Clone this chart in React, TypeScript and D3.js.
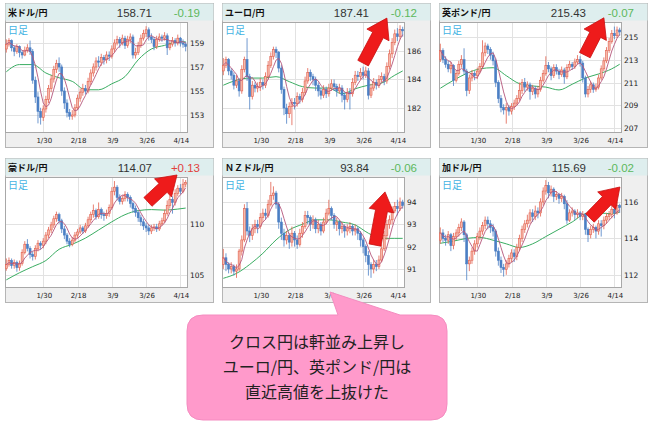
import React from 'react';
import * as d3 from 'd3';

// ---- shared axis data ----
const X_LABEL_IDX = [14, 27, 40, 53, 66];
const X_LABELS = ['1/30', '2/18', '3/9', '3/26', '4/14'];
const N = 69;
const MA_IDX = [0, 5, 10, 15, 20, 25, 30, 35, 40, 45, 50, 55, 60, 65, 68];

// ---- panel meta ----
const titles = ['米ドル/円', 'ユーロ/円', '英ポンド/円', '豪ドル/円', 'ＮＺドル/円', '加ドル/円'];
const prices = ['158.71', '187.41', '215.43', '114.07', '93.84', '115.69'];
const changes = ['-0.19', '-0.12', '-0.07', '+0.13', '-0.06', '-0.02'];
const firstOpen = [158.5, 184.6, 213.0, 105.6, 91.2, 113.9];
const yTicks = [
  [153, 155, 157, 159],
  [182, 184, 186],
  [207, 209, 211, 213, 215],
  [105, 110],
  [91, 92, 93, 94],
  [112, 114, 116],
];
const yDomains = [
  [151.58, 160.75],
  [180.32, 188.03],
  [206.67, 216.3],
  [103.8, 114.6],
  [90.19, 95.12],
  [111.33, 117.37],
];

// ---- USD/JPY ----
const usdClose = [158.9,159.2,158.6,158.3,158.7,158.2,158.0,158.4,158.6,158.3,155.9,154.5,153.3,152.8,153.5,154.3,155.2,156.0,156.8,157.3,157.0,155.0,154.0,153.2,152.9,153.0,153.6,154.4,154.9,155.2,155.0,155.8,156.5,157.0,157.5,157.4,157.8,157.6,158.0,157.9,158.5,159.0,159.3,159.0,159.4,158.8,159.3,159.5,158.0,158.2,158.8,159.4,159.8,160.1,159.5,159.3,158.7,159.3,159.5,159.4,159.6,158.6,158.9,159.2,159.0,159.4,159.0,158.9,158.71];
const usdHigh = [159.3,159.4,159.3,158.8,158.9,158.8,158.4,158.7,158.9,159.2,158.5,156.2,154.9,153.6,153.8,154.6,155.5,156.3,157.1,157.6,157.8,157.2,155.3,154.3,153.5,153.4,153.9,154.7,155.2,155.6,155.5,156.1,156.8,157.3,157.8,157.9,158.1,158.0,158.3,158.3,158.8,159.3,159.6,159.5,159.7,159.6,159.6,159.8,159.7,158.6,159.1,159.7,160.1,160.4,160.3,159.8,159.5,159.6,159.8,159.7,159.9,159.8,159.2,159.5,159.4,159.7,159.5,159.3,159.1];
const usdLow = [158.2,158.7,158.3,157.9,158.1,157.8,157.7,157.9,158.2,158.0,155.6,154.0,152.3,152.2,152.5,153.2,154.0,154.9,155.7,156.5,156.6,154.6,153.5,152.8,152.6,152.6,152.8,153.4,154.1,154.6,154.7,154.8,155.5,156.2,156.7,157.0,157.1,157.2,157.3,157.5,157.7,158.2,158.8,158.6,158.8,158.5,158.6,159.0,157.7,157.7,158.0,158.6,159.2,159.5,159.2,159.0,158.4,158.5,159.1,159.1,159.2,158.0,158.4,158.7,158.7,158.8,158.7,158.6,158.3];
const usdMa = [156.6,157.2,157.2,156.5,156.1,155.8,155.1,155.1,155.6,156.2,157.6,158.5,158.8,159.1,159.1];

// ---- EUR/JPY ----
const eurClose = [185.0,185.4,184.6,184.3,183.6,183.9,183.2,184.7,185.4,184.2,182.8,183.6,183.4,183.5,183.8,183.6,184.2,185.0,185.6,186.1,185.9,184.8,183.3,182.0,181.6,182.1,182.4,182.3,182.8,182.6,183.1,183.9,184.5,184.2,184.0,183.6,183.2,182.9,183.3,183.0,183.4,183.7,183.5,183.2,183.4,182.9,182.6,183.1,183.0,183.8,184.3,184.2,184.5,184.3,184.6,182.9,183.4,183.8,183.6,184.0,184.2,183.9,184.9,185.8,186.6,187.2,187.0,187.5,187.41];
const eurHigh = [185.5,185.6,185.5,184.8,184.5,184.3,184.1,185.0,185.6,186.9,184.4,183.9,183.8,183.8,184.1,184.0,184.5,185.3,185.9,186.3,186.3,186.0,185.0,183.5,182.3,182.4,182.7,182.7,183.1,183.0,183.4,184.2,184.8,184.7,184.4,184.2,183.8,183.4,183.6,183.5,183.7,184.0,184.0,183.7,183.7,183.6,183.1,183.4,183.4,184.1,184.6,184.6,184.8,184.9,184.9,184.8,183.7,184.1,184.0,184.3,184.5,184.4,185.2,186.1,186.9,187.5,187.6,187.8,187.7];
const eurLow = [184.3,184.8,184.3,184.0,183.3,183.4,182.8,183.0,184.5,183.9,181.9,182.6,183.1,183.1,183.2,183.3,183.4,184.0,184.8,185.4,185.5,184.5,183.0,181.5,180.9,181.3,180.8,181.9,182.1,182.3,182.4,182.9,183.7,183.9,183.6,183.2,182.8,182.6,182.7,182.7,182.8,183.2,183.2,182.8,183.0,182.4,181.9,182.4,181.9,182.8,183.6,183.9,184.0,184.0,184.1,182.6,182.7,183.2,183.3,183.4,183.8,183.6,183.7,184.7,185.5,186.4,186.7,186.8,187.0];
const eurMa = [183.6,183.95,184.1,184.1,184.2,183.85,183.5,183.4,183.4,183.0,183.35,183.6,183.75,184.3,184.6];

// ---- GBP/JPY ----
const gbpClose = [213.8,213.0,212.6,212.2,212.5,211.2,211.8,212.6,213.0,212.0,210.3,211.4,211.8,211.6,212.0,212.4,213.6,214.2,213.9,213.4,212.9,211.0,209.6,208.8,208.6,208.8,208.5,208.9,209.2,209.6,210.3,211.0,210.6,210.8,210.2,210.5,210.0,210.4,211.2,211.8,212.5,212.2,211.6,212.3,212.0,211.7,212.1,211.5,212.3,212.6,212.4,212.8,213.0,212.7,211.4,210.0,210.4,210.8,210.4,210.6,211.4,212.2,212.9,213.8,214.6,215.3,215.1,215.6,215.43];
const gbpHigh = [214.4,214.0,213.3,212.9,212.8,212.6,212.1,212.9,213.4,214.0,212.2,211.7,212.1,212.0,212.3,212.7,214.7,214.5,214.4,214.1,213.7,213.1,211.2,209.9,209.1,209.2,209.0,209.2,209.5,209.9,211.0,211.3,211.4,211.1,211.0,210.8,210.7,210.7,211.5,212.1,213.3,212.8,212.4,212.6,212.6,212.2,212.4,212.3,212.6,212.9,212.8,213.1,213.4,213.3,212.9,211.6,210.7,211.1,211.0,210.9,211.7,212.5,213.2,214.1,214.9,215.6,215.9,215.9,215.8];
const gbpLow = [212.8,212.7,212.3,211.9,211.8,210.7,211.0,211.6,212.3,211.7,209.8,210.0,211.1,211.2,211.3,211.8,212.2,213.3,213.5,213.0,212.5,210.6,209.2,208.4,208.2,207.4,208.1,208.2,208.6,209.0,209.4,210.0,210.2,210.3,209.5,209.9,209.6,209.7,210.2,211.0,211.6,211.9,211.2,211.4,211.7,211.3,211.5,210.9,211.3,212.1,212.1,212.2,212.6,212.4,211.0,209.7,209.7,210.1,210.1,210.2,210.4,211.2,212.0,212.7,213.6,214.4,214.8,214.9,215.1];
const gbpMa = [210.5,211.2,211.8,212.2,212.3,211.6,210.9,210.7,210.6,210.35,210.85,211.4,211.75,212.2,212.6];

// ---- AUD/JPY ----
const audClose = [106.0,106.4,105.9,106.2,105.7,106.1,107.2,108.0,107.6,107.0,106.8,107.6,108.1,107.9,108.3,108.9,109.4,109.9,110.5,110.9,110.3,109.5,108.9,108.3,108.0,108.4,108.9,109.2,109.6,109.3,109.8,110.4,110.9,111.3,110.7,111.4,110.9,110.8,111.0,111.6,113.2,113.6,112.6,112.2,112.5,112.9,112.6,112.0,111.5,111.1,110.6,110.2,109.8,109.6,109.3,109.6,109.7,109.5,110.0,110.3,111.0,111.8,112.4,112.1,113.0,113.5,113.2,113.9,114.07];
const audHigh = [106.6,106.7,106.6,106.5,106.4,106.4,107.5,108.3,108.5,107.8,107.3,107.9,108.4,108.3,108.6,109.2,109.7,110.2,110.8,111.2,111.1,110.5,109.8,109.1,108.6,108.7,109.2,109.5,109.9,109.8,110.1,110.7,111.2,111.9,111.5,112.1,111.6,111.2,111.4,111.9,113.6,114.2,113.8,112.9,112.8,113.2,113.1,112.8,112.2,111.8,111.3,110.9,110.5,110.1,109.9,109.9,110.0,110.0,110.3,110.6,111.4,112.3,112.8,112.7,113.4,113.8,113.9,114.4,114.3];
const audLow = [105.4,105.8,105.6,105.6,105.3,105.4,105.9,107.0,107.3,106.6,106.4,106.5,107.3,107.5,107.6,108.0,108.6,109.1,109.6,110.2,110.0,109.1,108.5,108.0,107.7,107.8,108.2,108.6,109.0,109.0,109.1,109.6,110.1,110.6,110.4,110.5,110.5,110.3,110.5,110.7,111.4,112.8,112.3,111.9,111.9,112.2,112.2,111.6,111.1,110.7,110.2,109.8,109.4,109.2,108.9,109.0,109.3,109.2,109.3,109.8,110.1,110.8,111.5,111.0,111.8,112.7,112.9,113.0,113.6];
const audMa = [104.5,105.2,105.8,106.4,107.5,108.0,108.6,109.4,110.2,110.9,111.3,111.4,111.35,111.45,111.55];

// ---- NZD/JPY ----
const nzdClose = [91.5,91.2,91.0,91.1,90.9,91.0,91.8,92.3,93.7,92.7,92.5,92.8,93.0,92.9,93.3,93.5,93.4,93.9,94.3,94.4,93.9,93.1,92.6,92.3,92.5,92.2,92.6,92.3,92.1,92.6,92.9,93.4,93.3,93.0,93.2,92.8,93.0,92.7,93.1,93.5,93.7,93.4,93.0,93.1,92.8,92.9,92.7,92.8,92.9,92.7,92.8,92.6,92.3,92.0,91.6,91.2,91.0,91.2,91.1,91.4,91.9,92.5,93.0,93.2,93.6,93.8,93.7,94.0,93.84];
const nzdHigh = [91.9,91.7,91.3,91.3,91.2,91.2,91.9,92.5,93.9,94.0,92.9,93.0,93.2,93.2,93.5,93.7,93.7,94.1,94.9,94.7,94.5,94.0,93.3,92.8,92.7,92.6,92.9,92.7,92.5,92.8,93.1,93.6,93.6,93.4,93.4,93.3,93.2,93.1,93.3,93.7,94.1,93.8,93.5,93.3,93.2,93.1,93.0,93.0,93.1,93.0,93.0,92.9,92.7,92.4,92.1,91.8,91.3,91.4,91.4,91.6,92.1,92.7,93.2,93.4,93.8,94.0,94.1,94.2,94.1];
const nzdLow = [91.0,90.9,90.8,90.8,90.7,90.6,90.9,91.6,92.2,92.5,92.2,92.3,92.6,92.6,92.8,93.1,93.2,93.3,93.8,94.1,93.7,92.8,92.3,92.0,92.1,91.9,92.0,92.0,91.9,92.0,92.4,92.8,93.0,92.7,92.8,92.6,92.6,92.5,92.6,93.0,93.4,93.2,92.8,92.7,92.5,92.6,92.4,92.5,92.6,92.5,92.5,92.3,92.0,91.7,91.3,90.7,90.6,90.8,90.9,91.0,91.3,91.8,92.3,92.8,93.0,93.5,93.4,93.6,93.7];
const nzdMa = [90.58,90.8,91.2,91.7,92.3,92.75,93.0,93.2,93.2,93.1,92.97,92.6,92.37,92.37,92.37];

// ---- CAD/JPY ----
const cadClose = [114.3,114.0,113.9,114.2,113.6,114.1,114.3,114.6,114.9,114.2,112.6,112.8,113.3,113.7,114.1,114.4,114.7,115.0,114.8,114.6,114.4,113.3,112.8,112.4,112.3,112.6,112.9,113.2,113.0,113.5,114.0,114.5,114.8,115.0,115.4,115.2,115.5,115.4,116.0,116.6,116.9,116.5,116.7,116.3,116.4,116.2,116.3,115.9,115.0,115.4,115.5,115.3,115.4,115.2,115.3,114.5,114.2,114.5,114.6,114.4,114.8,114.7,115.0,115.2,115.3,115.6,115.4,115.8,115.69];
const cadHigh = [114.6,114.5,114.2,114.4,114.3,114.3,114.5,114.8,115.1,115.0,114.3,113.0,113.5,113.9,114.3,114.6,114.9,115.2,115.2,115.0,114.8,114.5,113.5,113.0,112.6,112.8,113.1,113.4,113.4,113.7,114.2,114.7,115.0,115.3,115.6,115.6,115.8,115.7,116.2,116.8,117.2,117.1,116.9,116.8,116.6,116.5,116.5,116.4,116.1,115.6,115.7,115.6,115.6,115.5,115.5,115.4,114.6,114.7,114.8,114.7,115.0,115.0,115.2,115.4,115.5,115.8,115.8,116.0,115.9];
const cadLow = [113.7,113.8,113.6,113.7,113.3,113.4,113.9,114.1,114.4,113.8,111.7,112.2,112.6,113.1,113.5,113.9,114.2,114.5,114.5,114.3,114.1,113.0,112.5,112.1,111.9,112.0,112.4,112.7,112.7,112.8,113.3,113.8,114.3,114.6,114.8,114.9,115.0,115.1,115.2,115.8,116.4,116.2,116.3,116.0,116.1,115.9,116.0,115.6,114.8,114.9,115.2,115.0,115.1,115.0,115.0,114.2,113.8,114.0,114.3,114.0,114.2,114.1,114.5,114.8,115.0,115.1,115.1,115.3,115.4];
const cadMa = [113.73,113.85,114.0,114.05,113.9,113.7,113.5,113.7,114.1,114.5,114.9,115.35,115.4,115.35,115.45];

const closes = [usdClose, eurClose, gbpClose, audClose, nzdClose, cadClose];
const highs = [usdHigh, eurHigh, gbpHigh, audHigh, nzdHigh, cadHigh];
const lows = [usdLow, eurLow, gbpLow, audLow, nzdLow, cadLow];
const mas = [usdMa, eurMa, gbpMa, audMa, nzdMa, cadMa];

// arrows in data coordinates: [index, value] of tail and tip
const arrows: (null | { from: [number, number]; to: [number, number] })[] = [
  null,
  { from: [53, 185.15], to: [62, 188.3] },
  { from: [54.8, 213.4], to: [62, 216.67] },
  { from: [53.7, 112.16], to: [64.7, 114.8] },
  { from: [57.5, 92.07], to: [61.3, 94.45] },
  { from: [56.7, 115.12], to: [68.1, 116.82] },
];

const calloutLines = ['クロス円は軒並み上昇し', 'ユーロ/円、英ポンド/円は', '直近高値を上抜けた'];

const PW = 182, PT = 19, PB = 129, W = 208, H = 144;
const UP_FILL = '#f7b9aa', UP_STROKE = '#e2604e', DOWN = '#4b7fc4';

function arrowPath(tx: number, ty: number, px: number, py: number) {
  const dx = px - tx, dy = py - ty;
  const L = Math.hypot(dx, dy);
  const ux = dx / L, uy = dy / L;
  const nx = -uy, ny = ux;
  const hl = 19, sh = 6, hh = 12.5;
  const bx = px - ux * hl, by = py - uy * hl;
  const pts = [
    [tx + nx * sh, ty + ny * sh],
    [bx + nx * sh, by + ny * sh],
    [bx + nx * hh, by + ny * hh],
    [px, py],
    [bx - nx * hh, by - ny * hh],
    [bx - nx * sh, by - ny * sh],
    [tx - nx * sh, ty - ny * sh],
  ];
  return 'M' + pts.map((p) => p[0].toFixed(1) + ',' + p[1].toFixed(1)).join('L') + 'Z';
}

function Panel({ k }: { k: number }) {
  const col = k % 3, row = Math.floor(k / 3);
  const ox = 5 + col * 217, oy = 3 + row * 155;
  const x = d3.scaleLinear().domain([-0.5, N - 0.5]).range([0, PW]);
  const y = d3.scaleLinear().domain(yDomains[k]).range([PB, PT]);
  const close = closes[k];
  const open = close.map((c, i) => (i === 0 ? firstOpen[k] : close[i - 1]));
  const sma = close.map((_, i) => d3.mean(close.slice(Math.max(0, i - 4), i + 1)) as number);
  const shortLine = d3.line<number>().x((_, i) => x(i)).y((d) => y(d))(sma) || '';
  const maPts = MA_IDX.map((ix, j) => [ix, mas[k][j]] as [number, number]);
  const maLine = d3.line<[number, number]>().x((d) => x(d[0])).y((d) => y(d[1])).curve(d3.curveMonotoneX)(maPts) || '';
  const chg = changes[k];
  const chgColor = chg.startsWith('+') ? '#e2413c' : '#5cb85c';
  const bw = 2;
  return (
    <g transform={`translate(${ox},${oy})`}>
      <defs>
        <clipPath id={`clip${k}`}>
          <rect x={0} y={PT} width={PW} height={PB - PT} />
        </clipPath>
      </defs>
      <rect x={0.5} y={0.5} width={W} height={H} fill="#efefef" stroke="#b5b5b5" />
      <rect x={0.5} y={0.5} width={W} height={17} fill="#deeeee" stroke="none" />
      <text x={3} y={13} fontFamily="'Noto Sans CJK JP', sans-serif" fontWeight="bold" fontSize={9} fill="#111">
        {titles[k]}
      </text>
      <text x={147} y={14} textAnchor="end" fontFamily="'Liberation Sans', Arial, sans-serif" fontSize={11.5} fill="#333">
        {prices[k]}
      </text>
      <text x={195} y={14} textAnchor="end" fontFamily="'Liberation Sans', Arial, sans-serif" fontSize={11.5} fill={chgColor}>
        {chg}
      </text>
      <rect x={0.5} y={PT + 0.5} width={PW} height={PB - PT} fill="#ffffff" stroke="#a8a8a8" />
      {yTicks[k].map((t) => (
        <line key={'h' + t} x1={1} x2={PW} y1={Math.round(y(t)) + 0.5} y2={Math.round(y(t)) + 0.5} stroke="#e2e2e2" />
      ))}
      {X_LABEL_IDX.map((ix) => (
        <line key={'v' + ix} x1={Math.round(x(ix)) + 0.5} x2={Math.round(x(ix)) + 0.5} y1={PT + 1} y2={PB} stroke="#e2e2e2" />
      ))}
      <g clipPath={`url(#clip${k})`}>
        <path d={maLine} fill="none" stroke="#3aad62" strokeWidth={1} />
        {close.map((c, i) => {
          const o = open[i];
          const up = c >= o;
          const cx = x(i);
          const top = y(Math.max(o, c));
          const bot = y(Math.min(o, c));
          const col2 = up ? UP_STROKE : DOWN;
          return (
            <g key={i}>
              <line x1={cx} x2={cx} y1={y(highs[k][i])} y2={y(lows[k][i])} stroke={col2} strokeWidth={0.8} />
              <rect
                x={cx - bw / 2}
                y={top}
                width={bw}
                height={Math.max(1, bot - top)}
                fill={up ? UP_FILL : DOWN}
                stroke={col2}
                strokeWidth={0.6}
              />
            </g>
          );
        })}
        <path d={shortLine} fill="none" stroke="#b4567a" strokeWidth={0.9} />
      </g>
      <text x={3} y={PT + 12} fontFamily="'Noto Sans CJK JP', sans-serif" fontSize={10} fill="#45b3e3">
        日足
      </text>
      {yTicks[k].map((t) => (
        <text key={'yl' + t} x={PW + 3} y={y(t) + 3} fontFamily="'DejaVu Sans', sans-serif" fontSize={7.5} fill="#222">
          {t}
        </text>
      ))}
      {X_LABEL_IDX.map((ix, j) => (
        <text key={'xl' + ix} x={x(ix) + 1} y={PB + 11} textAnchor="middle" fontFamily="'DejaVu Sans', sans-serif" fontSize={7} fill="#222">
          {X_LABELS[j]}
        </text>
      ))}
    </g>
  );
}

function Arrow({ k }: { k: number }) {
  const a = arrows[k];
  if (!a) return null;
  const col = k % 3, row = Math.floor(k / 3);
  const ox = 5 + col * 217, oy = 3 + row * 155;
  const x = d3.scaleLinear().domain([-0.5, N - 0.5]).range([0, PW]);
  const y = d3.scaleLinear().domain(yDomains[k]).range([PB, PT]);
  const d = arrowPath(ox + x(a.from[0]), oy + y(a.from[1]), ox + x(a.to[0]), oy + y(a.to[1]));
  return <path d={d} fill="#ee1b1b" stroke="#c80f0f" strokeWidth={0.8} />;
}

function Callout() {
  const x0 = 187, x1 = 447, y0 = 315, y1 = 420, r = 16;
  const d =
    `M${x0 + r},${y0} L338,${y0} L330,292 L400,${y0} L${x1 - r},${y0} Q${x1},${y0} ${x1},${y0 + r} ` +
    `L${x1},${y1 - r} Q${x1},${y1} ${x1 - r},${y1} L${x0 + r},${y1} Q${x0},${y1} ${x0},${y1 - r} ` +
    `L${x0},${y0 + r} Q${x0},${y0} ${x0 + r},${y0} Z`;
  return (
    <g>
      <path d={d} fill="#ff9acb" stroke="#f48cc0" strokeWidth={1} />
      {calloutLines.map((t, i) => (
        <text
          key={i}
          x={317}
          y={348 + i * 25}
          textAnchor="middle"
          fontFamily="'Noto Sans CJK JP', sans-serif"
          fontSize={16}
          fill="#222"
        >
          {t}
        </text>
      ))}
    </g>
  );
}

export default function App() {
  return (
    <svg
      width={652}
      height={428}
      viewBox="0 0 652 428"
      style={{ position: 'absolute', left: 0, top: 0, background: '#fff' }}
    >
      <rect x={0} y={0} width={652} height={428} fill="#fff" />
      {[0, 1, 2, 3, 4, 5].map((k) => (
        <Panel key={k} k={k} />
      ))}
      {[0, 1, 2, 3, 4, 5].map((k) => (
        <Arrow key={'a' + k} k={k} />
      ))}
      <Callout />
    </svg>
  );
}
